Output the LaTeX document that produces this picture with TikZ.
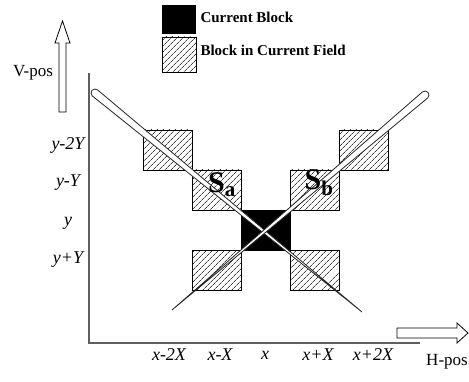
\documentclass[tikz,border=0pt]{standalone}
\usepackage{fontspec}
\setmainfont{Liberation Serif}
\usetikzlibrary{calc}
\usetikzlibrary{patterns.meta}
\definecolor{axisgray}{RGB}{95,95,95}
\newcommand{\needle}[2]{%
  \draw[needleline] let \p1=($#2-#1$), \n1={atan2(\y1,\x1)} in
    ($#1+(\n1+90:4)$) -- #2 -- ($#1+(\n1-90:4)$)
    arc[start angle=\n1-90, end angle=\n1-270, radius=4] -- cycle;%
}

\begin{document}
\begin{tikzpicture}[x=1pt,y=1pt,
    cell/.style={draw,minimum width=49pt,minimum height=40pt,inner sep=0pt,line width=0.8pt},
    hatchcell/.style={cell,pattern={Lines[angle=45,distance=4pt,line width=0.7pt]},pattern color=black!75},
    curcell/.style={cell,fill=black},
    needleline/.style={draw=black!85,fill=white,line width=0.8pt},
    ticklab/.style={font=\fontsize{18}{18}\selectfont\itshape},
    axlab/.style={font=\fontsize{17}{17}\selectfont},
    leglab/.style={font=\fontsize{15}{15}\selectfont\bfseries,anchor=west},
    slab/.style={font=\fontsize{30}{30}\selectfont\bfseries}]
    \useasboundingbox (0,0) rectangle (469,381);
    % legend
    \node[curcell,minimum width=33pt,minimum height=28pt] (legcur) at (178.5,362) {};
    \node[hatchcell,minimum width=34pt,minimum height=35pt] (leghatch) at (179,326.5) {};
    \node[leglab] (legcurtxt) at (197,364) {Current Block};
    \node[leglab] (leghatchtxt) at (197,331) {Block in Current Field};
    % axes
    \coordinate (orig) at (89,38);
    \coordinate (vtop) at (89,308);
    \coordinate (hend) at (420,38);
    \draw[axisgray,line width=1.1pt] (vtop) -- (orig) -- (hend);
    % hollow direction arrows
    \draw[line width=0.8pt] (59,269) -- (59,338) -- (55,338) -- (62.5,360)
      -- (70,338) -- (66,338) -- (66,269) -- cycle;
    \draw[line width=0.8pt] (397,43) -- (457,43) -- (457,38) -- (468,48)
      -- (457,58) -- (457,53) -- (397,53) -- cycle;
    \node[axlab] (vpos) at (33,308) {V-pos};
    \node[axlab] (hpos) at (447,19) {H-pos};
    % blocks
    \node[hatchcell] (tl) at (168,231) {};
    \node[hatchcell] (sa) at (217,191) {};
    \node[hatchcell] (bl) at (217,111) {};
    \node[curcell] (cur) at (266,151) {};
    \node[hatchcell] (sb) at (315,191) {};
    \node[hatchcell] (br) at (315,111) {};
    \node[hatchcell] (tr) at (364,231) {};
    % search directions
    \coordinate (na1) at (95,288);
    \coordinate (na2) at (362,69);
    \coordinate (nb1) at (425,286);
    \coordinate (nb2) at (172,71);
    \needle{(na1)}{(na2)}
    \needle{(nb1)}{(nb2)}
    \node[slab] (salab) at (222,196) {S\textsubscript{a}};
    \node[slab] (sblab) at (319,198) {S\textsubscript{b}};
    % tick labels
    \foreach \lab/\px in {x-2X/169,x-X/220,x/265,x+X/318,x+2X/373}
      \node[ticklab] (xt-\px) at (\px,26) {\lab};
    \foreach \lab/\py in {y-2Y/236,y-Y/198,y/158,y+Y/121}
      \node[ticklab] (yt-\py) at (68,\py) {\lab};
\end{tikzpicture}
\end{document}
